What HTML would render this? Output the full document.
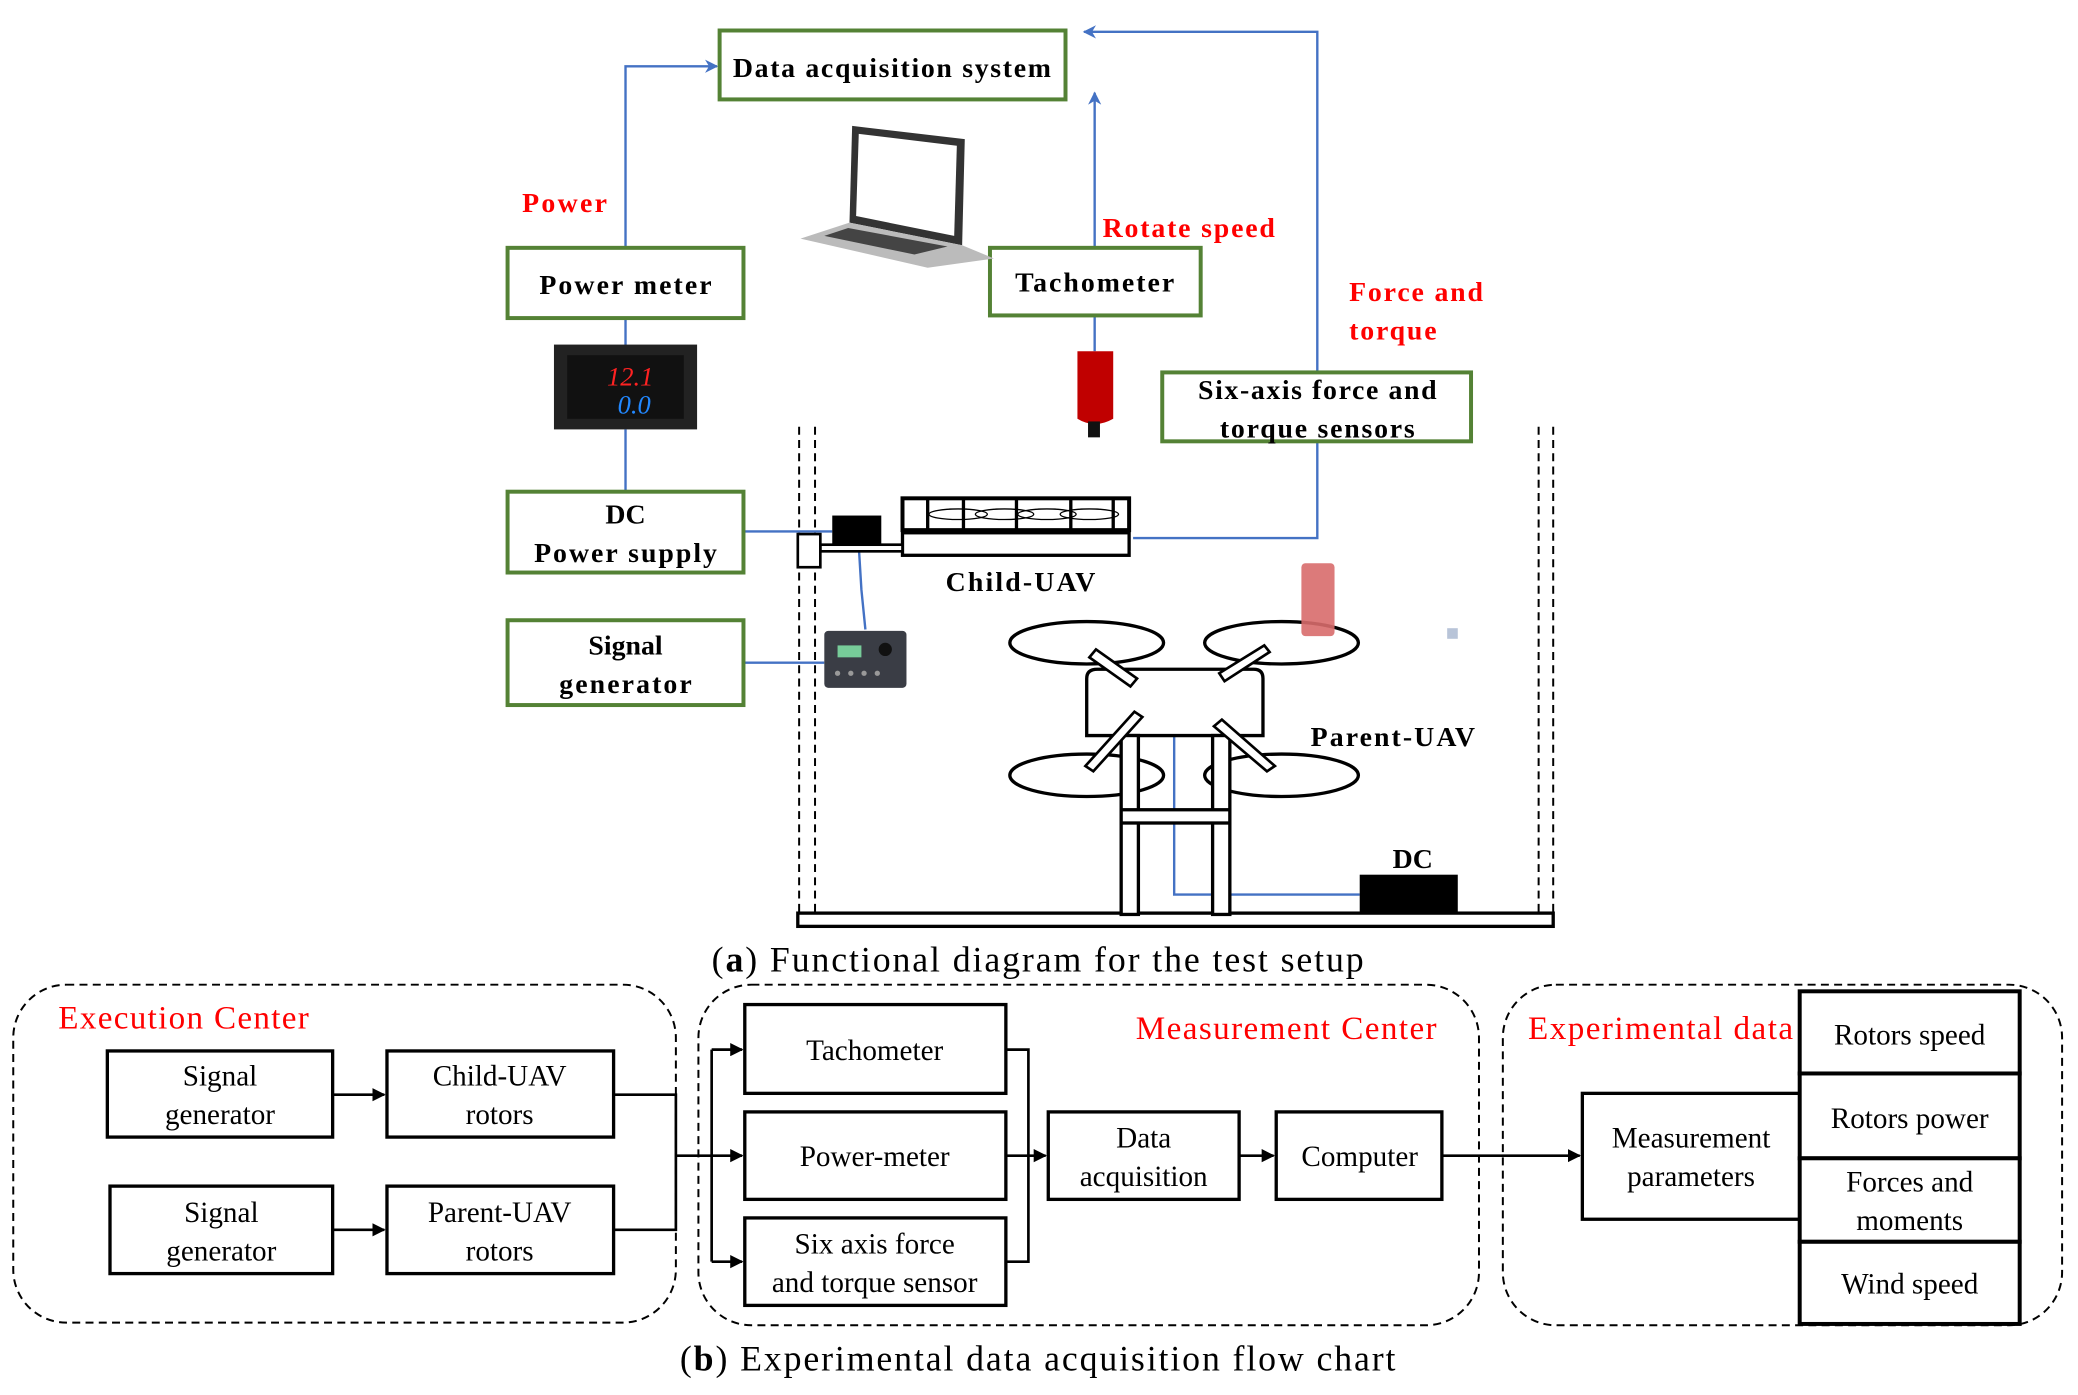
<!DOCTYPE html>
<html><head><meta charset="utf-8"><style>
html,body{margin:0;padding:0;background:#fff;}
svg{display:block;}
text{font-family:"Liberation Serif",serif;}
.g{fill:none;stroke:#548235;stroke-width:3;}
.b{fill:none;stroke:#4472C4;stroke-width:1.8;}
.k{fill:none;stroke:#000;stroke-width:2;}
.t{font-size:21px;font-weight:bold;text-anchor:middle;fill:#000;}
.r{font-size:21px;font-weight:bold;fill:#f00;}
.n{font-size:22px;text-anchor:middle;fill:#000;}
.rc{font-size:25px;fill:#f00;}
.d{fill:none;stroke:#000;stroke-width:1.5;stroke-dasharray:6,4;}
</style></head><body>
<svg width="2078" height="1395" viewBox="0 0 1568 1052.6" xmlns="http://www.w3.org/2000/svg">
<defs>
<marker id="ab" markerWidth="10" markerHeight="10" refX="9" refY="5" orient="auto" markerUnits="userSpaceOnUse"><path d="M0,0 L10,5 L0,10 L3,5 z" fill="#4472C4"/></marker>
<marker id="ak" markerWidth="10" markerHeight="10" refX="9" refY="5" orient="auto" markerUnits="userSpaceOnUse"><path d="M0,0 L10,5 L0,10 z" fill="#000"/></marker>
</defs>
<polyline class="b" points="472,187 472,50 541,50" marker-end="url(#ab)"/>
<polyline class="b" points="826,187 826,70" marker-end="url(#ab)"/>
<polyline class="b" points="994,281 994,24 818,24" marker-end="url(#ab)"/>
<polyline class="b" points="994,333 994,406 855,406"/>
<line class="b" x1="472" y1="240" x2="472" y2="262"/>
<line class="b" x1="472" y1="324" x2="472" y2="371"/>
<line class="b" x1="561" y1="401" x2="628" y2="401"/>
<line class="b" x1="561" y1="500" x2="622" y2="500"/>
<polyline class="b" points="648,412 650,445 653,475"/>
<line class="b" x1="826" y1="238" x2="826" y2="265"/>
<polyline class="b" points="886,555 886,675 1026,675"/>
<rect class="g" x="543" y="23" width="261" height="52"/>
<text class="t" x="673" y="58" textLength="240">Data acquisition system</text>
<rect class="g" x="383" y="187" width="178" height="53"/>
<text class="t" x="472" y="222" textLength="130">Power meter</text>
<rect class="g" x="747" y="187" width="159" height="51"/>
<text class="t" x="826" y="220" textLength="120">Tachometer</text>
<rect class="g" x="877" y="281" width="233" height="52"/>
<text class="t" x="994" y="301" textLength="180">Six-axis force and</text>
<text class="t" x="994" y="330" textLength="147">torque sensors</text>
<rect class="g" x="383" y="371" width="178" height="61"/>
<text class="t" x="472" y="395">DC</text>
<text class="t" x="472" y="424" textLength="138">Power supply</text>
<rect class="g" x="383" y="468" width="178" height="64"/>
<text class="t" x="472" y="494">Signal</text>
<text class="t" x="472" y="523" textLength="100">generator</text>
<text class="r" x="394" y="160" textLength="64">Power</text>
<text class="r" x="832" y="179" textLength="130">Rotate speed</text>
<text class="r" x="1018" y="227" textLength="101">Force and</text>
<text class="r" x="1018" y="256" textLength="66">torque</text>
<path d="M643,95 L728,105 L726,185 L641,168 Z" fill="#333"/>
<path d="M648,101 L722,110 L720,178 L646,163 Z" fill="#fff"/>
<path d="M641,168 L726,185 L750,195 L700,202 L604,180 Z" fill="#bbb"/>
<path d="M640,172 L715,186 L690,192 L622,178 Z" fill="#444"/>
<rect x="418" y="260" width="108" height="64" fill="#222"/>
<rect x="428" y="268" width="88" height="48" fill="#111"/>
<text x="458" y="291" font-size="20" fill="#f22" font-style="italic" font-family="Liberation Mono">12.1</text>
<text x="466" y="312" font-size="20" fill="#28f" font-style="italic" font-family="Liberation Mono">0.0</text>
<path d="M813,265 H840 V316 Q826,324 813,316 Z" fill="#c00000"/>
<rect x="821" y="318" width="9" height="12" fill="#111"/>
<line class="d" x1="603" y1="322" x2="603" y2="688" stroke-width="2.5"/>
<line class="d" x1="615" y1="322" x2="615" y2="688" stroke-width="2.5"/>
<line class="d" x1="1161" y1="322" x2="1161" y2="688" stroke-width="2.5"/>
<line class="d" x1="1172" y1="322" x2="1172" y2="688" stroke-width="2.5"/>
<rect x="602" y="689" width="570" height="10" fill="#fff" stroke="#000" stroke-width="2.5"/>
<rect x="681" y="376" width="171" height="24" fill="#fff" stroke="#000" stroke-width="3"/>
<g stroke="#000" stroke-width="2.5"><line x1="700" y1="376" x2="700" y2="400"/><line x1="727" y1="376" x2="727" y2="400"/><line x1="767" y1="376" x2="767" y2="400"/><line x1="808" y1="376" x2="808" y2="400"/><line x1="840" y1="376" x2="840" y2="400"/></g>
<g fill="none" stroke="#000" stroke-width="1"><ellipse cx="723" cy="388" rx="22" ry="4"/><ellipse cx="758" cy="388" rx="22" ry="4"/><ellipse cx="790" cy="388" rx="22" ry="4"/><ellipse cx="822" cy="388" rx="22" ry="4"/></g>
<rect x="681" y="402" width="171" height="17" fill="#fff" stroke="#000" stroke-width="2.5"/>
<rect x="628" y="389" width="37" height="22" fill="#000"/>
<rect x="619" y="411" width="62" height="5" fill="#fff" stroke="#000" stroke-width="2"/>
<rect x="602" y="403" width="17" height="25" fill="#fff" stroke="#000" stroke-width="2"/>
<text class="t" x="770" y="446" textLength="113">Child-UAV</text>
<rect x="622" y="476" width="62" height="43" rx="3" fill="#3a3d45"/>
<rect x="632" y="487" width="18" height="9" fill="#7c9"/>
<circle cx="668" cy="490" r="5" fill="#111"/>
<g fill="#999"><circle cx="632" cy="508" r="2"/><circle cx="642" cy="508" r="2"/><circle cx="652" cy="508" r="2"/><circle cx="662" cy="508" r="2"/></g>
<g fill="none" stroke="#000" stroke-width="2.5">
<ellipse cx="820" cy="485" rx="58" ry="16"/><ellipse cx="967" cy="485" rx="58" ry="16"/>
<ellipse cx="820" cy="585" rx="58" ry="16"/><ellipse cx="967" cy="585" rx="58" ry="16"/>
<path d="M820,512 Q820,505 828,505 H946 Q953,505 953,512 V555 H820 Z" fill="#fff"/>
<rect x="846" y="555" width="13" height="135" fill="#fff"/>
<rect x="915" y="555" width="13" height="135" fill="#fff"/>
<rect x="846" y="611" width="82" height="10" fill="#fff"/>
</g>
<g fill="#fff" stroke="#000" stroke-width="2">
<polygon points="822,496 827,490 858,512 853,518"/>
<polygon points="920,508 924,514 958,492 954,487"/>
<polygon points="819,578 825,582 862,541 856,537"/>
<polygon points="916,548 922,543 962,578 956,582"/>
</g>
<rect x="1026" y="660" width="74" height="29" fill="#000"/>
<text class="t" x="1066" y="655">DC</text>
<text class="t" x="1051" y="563" textLength="124">Parent-UAV</text>
<rect x="982" y="425" width="25" height="55" rx="3" fill="#d86b6b" opacity="0.9"/>
<rect x="1092" y="474" width="8" height="8" fill="#b8c4d8"/>
<text x="537" y="733" font-size="27" textLength="492">(<tspan font-weight="bold">a</tspan>) Functional diagram for the test setup</text>
<rect class="d" x="10" y="743" width="500" height="255" rx="40"/>
<rect class="d" x="527" y="743" width="589" height="257" rx="40"/>
<rect class="d" x="1134" y="743" width="422" height="257" rx="40"/>
<text class="rc" x="44" y="776" textLength="189">Execution  Center</text>
<text class="rc" x="857" y="784" textLength="227">Measurement  Center</text>
<text class="rc" x="1153" y="784" textLength="200">Experimental  data</text>
<g fill="#fff" stroke="#000" stroke-width="2.5">
<rect x="81" y="793" width="170" height="65"/><rect x="292" y="793" width="171" height="65"/>
<rect x="83" y="895" width="168" height="66"/><rect x="292" y="895" width="171" height="66"/>
<rect x="562" y="758" width="197" height="67"/><rect x="562" y="839" width="197" height="66"/><rect x="562" y="919" width="197" height="66"/>
<rect x="791" y="839" width="144" height="66"/><rect x="963" y="839" width="125" height="66"/>
<rect x="1194" y="825" width="164" height="95"/>
<rect x="1358" y="748" width="166" height="62" stroke-width="3"/><rect x="1358" y="810" width="166" height="64" stroke-width="3"/>
<rect x="1358" y="874" width="166" height="63" stroke-width="3"/><rect x="1358" y="937" width="166" height="62" stroke-width="3"/>
</g>
<g class="n">
<text x="166" y="819">Signal</text><text x="166" y="848">generator</text>
<text x="377" y="819">Child-UAV</text><text x="377" y="848">rotors</text>
<text x="167" y="922">Signal</text><text x="167" y="951">generator</text>
<text x="377" y="922">Parent-UAV</text><text x="377" y="951">rotors</text>
<text x="660" y="800">Tachometer</text>
<text x="660" y="880">Power-meter</text>
<text x="660" y="946">Six axis force</text><text x="660" y="975">and torque sensor</text>
<text x="863" y="866">Data</text><text x="863" y="895">acquisition</text>
<text x="1026" y="880">Computer</text>
<text x="1276" y="866">Measurement</text><text x="1276" y="895">parameters</text>
<text x="1441" y="788">Rotors speed</text>
<text x="1441" y="851">Rotors power</text>
<text x="1441" y="899">Forces and</text><text x="1441" y="928">moments</text>
<text x="1441" y="976">Wind speed</text>
</g>
<g fill="none" stroke="#000" stroke-width="2">
<line x1="251" y1="826" x2="290" y2="826" marker-end="url(#ak)"/>
<line x1="251" y1="928" x2="290" y2="928" marker-end="url(#ak)"/>
<polyline points="463,826 510,826 510,928 463,928"/>
<line x1="510" y1="872" x2="537" y2="872"/>
<line x1="537" y1="792" x2="537" y2="952"/>
<line x1="537" y1="792" x2="560" y2="792" marker-end="url(#ak)"/>
<line x1="537" y1="872" x2="560" y2="872" marker-end="url(#ak)"/>
<line x1="537" y1="952" x2="560" y2="952" marker-end="url(#ak)"/>
<polyline points="759,792 776,792 776,952 759,952"/>
<line x1="759" y1="872" x2="789" y2="872" marker-end="url(#ak)"/>
<line x1="935" y1="872" x2="961" y2="872" marker-end="url(#ak)"/>
<line x1="1088" y1="872" x2="1192" y2="872" marker-end="url(#ak)"/>
</g>
<text x="513" y="1034" font-size="27" textLength="540">(<tspan font-weight="bold">b</tspan>) Experimental data acquisition flow chart</text>
</svg>
</body></html>
